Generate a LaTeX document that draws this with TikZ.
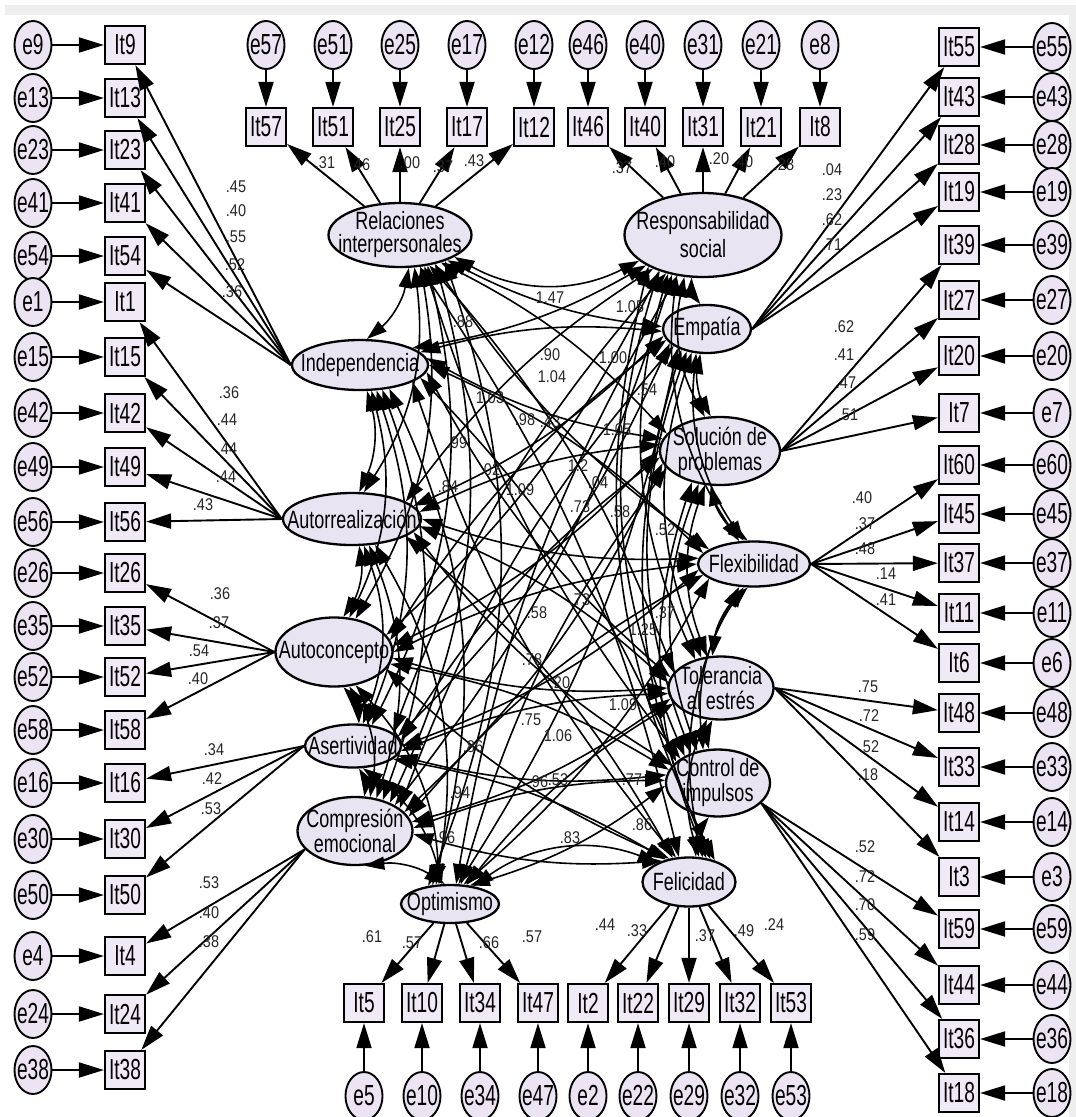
\documentclass[tikz,border=0pt]{standalone}
\usepackage{fontspec}
\setmainfont{Liberation Sans}
\newfontfamily\nar{Liberation Sans}[FakeStretch=0.72]
\newfontfamily\narb{Liberation Sans}[FakeStretch=0.66]
\newfontfamily\narl{Liberation Sans}[FakeStretch=0.85]
\usetikzlibrary{shapes.geometric,arrows.meta}
\definecolor{latfill}{RGB}{233,228,242}
\definecolor{obsfill}{RGB}{240,234,247}
\definecolor{errfill}{RGB}{236,228,243}
\definecolor{band}{RGB}{238,238,238}
\begin{document}
\begin{tikzpicture}[x=1pt,y=-1pt,
  lat/.style={ellipse,draw,line width=2.3pt,fill=latfill,inner sep=0pt},
  lt/.style={font=\nar\fontsize{25}{25}\selectfont,align=center,inner sep=0pt},
  obs/.style={rectangle,draw,line width=2.2pt,fill=obsfill,minimum width=40pt,minimum height=38pt,inner sep=0pt,font=\narb\fontsize{29}{30}\selectfont},
  err/.style={ellipse,draw,line width=1.9pt,fill=errfill,minimum width=37pt,minimum height=48pt,inner xsep=-3pt,inner ysep=0pt,font=\narb\fontsize{29}{30}\selectfont},
  ld/.style={-{Triangle[length=25pt,width=15pt]},line width=1.9pt},
  cov/.style={{Triangle[length=20pt,width=13pt]}-{Triangle[length=20pt,width=13pt]},line width=1.6pt},
  lbl/.style={font=\narl\fontsize{17}{17}\selectfont,inner sep=0pt,text=black!85}]
\useasboundingbox (0,0) rectangle (1076,1117);
\fill[white] (0,0) rectangle (1076,1117);
\fill[band] (5,5) rectangle (1076,15);
\fill[band] (1069,15) rectangle (1076,1117);

% latent variables
\node[lat,minimum width=143pt,minimum height=64pt] (rel) at (400,235) {};
\node[lat,minimum width=157pt,minimum height=84pt] (resp) at (703,235) {};
\node[lat,minimum width=136pt,minimum height=50pt] (ind) at (360,365) {};
\node[lat,minimum width=88pt,minimum height=48pt] (emp) at (707,329) {};
\node[lat,minimum width=138pt,minimum height=52pt] (autor) at (352,519) {};
\node[lat,minimum width=120pt,minimum height=68pt] (sol) at (720,451) {};
\node[lat,minimum width=117pt,minimum height=69pt] (autoc) at (334,652) {};
\node[lat,minimum width=112pt,minimum height=45pt] (flex) at (754,564) {};
\node[lat,minimum width=96pt,minimum height=43pt] (aser) at (353,746) {};
\node[lat,minimum width=105pt,minimum height=63pt] (tol) at (721,688) {};
\node[lat,minimum width=115pt,minimum height=68pt] (comp) at (355,831) {};
\node[lat,minimum width=104pt,minimum height=67pt] (ctrl) at (718,783) {};
\node[lat,minimum width=98pt,minimum height=38pt] (opt) at (450,904) {};
\node[lat,minimum width=93pt,minimum height=49pt] (fel) at (689,882) {};

% left indicators
\foreach \n/\y in {9/45,13/98,23/150,41/203,54/256,1/302,15/357,42/413,49/467,56/522,26/573,35/626,52/677,58/730,16/783,30/839,50/895,4/956,24/1014,38/1070}{
  \node[err] (e\n) at (33,\y) {e\n};
  \node[obs] (it\n) at (125,\y) {It\n};
  \draw[ld] (e\n) -- (it\n);
}
% right indicators
\foreach \n/\y in {55/47,43/97,28/145,19/192,39/245,27/300,20/356,7/413,60/465,45/514,37/563,11/613,6/663,48/713,33/767,14/822,3/877,59/929,44/985,36/1039,18/1093}{
  \node[err] (e\n) at (1052,\y) {e\n};
  \node[obs] (it\n) at (959,\y) {It\n};
  \draw[ld] (e\n) -- (it\n);
}
% top indicators
\foreach \n/\x in {57/266,51/333,25/400,17/467,12/534,46/588,40/645,31/703,21/761,8/820}{
  \node[err] (e\n) at (\x,45) {e\n};
  \node[obs] (it\n) at (\x,127) {It\n};
  \draw[ld] (e\n) -- (it\n);
}
% bottom indicators
\foreach \n/\x in {5/364,10/422,34/480,47/538,2/588,22/638,29/689,32/740,53/791}{
  \node[err] (e\n) at (\x,1096) {e\n};
  \node[obs] (it\n) at (\x,1003) {It\n};
  \draw[ld] (e\n) -- (it\n);
}

% loadings
\foreach \t in {9,13,23,41,54} \draw[ld] (ind.west) -- (it\t);
\foreach \t in {1,15,42,49,56} \draw[ld] (autor.west) -- (it\t);
\foreach \t in {26,35,52,58} \draw[ld] (autoc.west) -- (it\t);
\foreach \t in {16,30,50} \draw[ld] (aser.west) -- (it\t);
\foreach \t in {4,24,38} \draw[ld] (comp.200) -- (it\t);
\foreach \t in {57,51,25,17,12} \draw[ld] (rel) -- (it\t);
\foreach \t in {46,40,31,21,8} \draw[ld] (resp) -- (it\t);
\foreach \t in {55,43,28,19} \draw[ld] (emp.east) -- (it\t);
\foreach \t in {39,27,20,7} \draw[ld] (sol.east) -- (it\t);
\foreach \t in {60,45,37,11,6} \draw[ld] (flex.east) -- (it\t);
\foreach \t in {48,33,14,3} \draw[ld] (tol.east) -- (it\t);
\foreach \t in {59,44,36,18} \draw[ld] (ctrl.-25) -- (it\t);
\foreach \t in {5,10,34,47} \draw[ld] (opt) -- (it\t);
\foreach \t in {2,22,29,32,53} \draw[ld] (fel) -- (it\t);

% covariances: left column among themselves
\foreach \a [count=\i] in {rel,ind,autor,autoc,aser,comp,opt}{
  \foreach \b [count=\j] in {rel,ind,autor,autoc,aser,comp,opt}{
    \ifnum\i<\j
      \pgfmathtruncatemacro\ua{-75+(\j-\i-1)*9}
      \pgfmathtruncatemacro\la{ifthenelse(\j==7,105+(6-\i)*7,75-(\j-\i-1)*9)}
      \draw[cov] (\a.\ua) to[bend left=20] (\b.\la);
    \fi
  }
}
% right column among themselves
\foreach \a [count=\i] in {resp,emp,sol,flex,tol,ctrl,fel}{
  \foreach \b [count=\j] in {resp,emp,sol,flex,tol,ctrl,fel}{
    \ifnum\i<\j
      \pgfmathtruncatemacro\ua{-105-(\j-\i-1)*9}
      \pgfmathtruncatemacro\la{ifthenelse(\j==7,75-(6-\i)*7,105+(\j-\i-1)*9)}
      \draw[cov] (\a.\ua) to[bend right=20] (\b.\la);
    \fi
  }
}
% cross covariances
\foreach \a/\basea [count=\i] in {rel/-40,ind/0,autor/0,autoc/0,aser/0,comp/15,opt/55}{
  \foreach \b/\baseb [count=\j] in {resp/220,emp/195,sol/180,flex/180,tol/180,ctrl/165,fel/130}{
    \pgfmathtruncatemacro\aa{\basea-(\j-4)*6}
    \pgfmathtruncatemacro\ab{\baseb+(\i-4)*6}
    \pgfmathsetmacro\bb{ifthenelse(and(\i==1,\j==1),-28,ifthenelse(and(\i==7,\j==7),28,ifthenelse(mod(\i+\j,2)==0,10,-10)))}
    \draw[cov] (\a.\aa) to[bend left=\bb] (\b.\ab);
  }
}

% latent texts
\node[lt,font=\nar\fontsize{25}{23}\selectfont] (rel-t) at (rel) {Relaciones\\interpersonales};
\node[lt,font=\nar\fontsize{25}{28}\selectfont] (resp-t) at (resp) {Responsabilidad\\social};
\node[lt] (ind-t) at (ind) {Independencia};
\node[lt] (emp-t) at (emp) {Empatía};
\node[lt] (autor-t) at (autor) {Autorrealización};
\node[lt] (sol-t) at (sol) {Solución de\\problemas};
\node[lt] (autoc-t) at (autoc) {Autoconcepto};
\node[lt] (flex-t) at (flex) {Flexibilidad};
\node[lt] (aser-t) at (aser) {Asertividad};
\node[lt] (tol-t) at (tol) {Tolerancia\\al estrés};
\node[lt] (comp-t) at (comp) {Compresión\\emocional};
\node[lt] (ctrl-t) at (ctrl) {Control de\\impulsos};
\node[lt] (opt-t) at (opt) {Optimismo};
\node[lt] (fel-t) at (fel) {Felicidad};

% coefficient labels
\foreach \x/\y/\t [count=\k] in {
 236/187/.45, 236/211/.40, 236/237/.55, 235/265/.52, 232/292/.36,
 229/393/.36, 227/420/.44, 227/449/.44, 226/477/.44, 203/505/.43,
 220/594/.36, 219/623/.37, 199/651/.54, 198/679/.40,
 214/750/.34, 212/779/.42, 211/809/.53,
 209/883/.53, 209/913/.40, 209/942/.38,
 372/937/.61, 412/943/.57, 489/943/.66, 532/937/.57,
 605/925/.44, 637/931/.33, 705/936/.37, 744/931/.49, 774/925/.24,
 865/847/.52, 865/877/.72, 865/905/.70, 865/935/.59,
 868/687/.75, 869/716/.72, 869/747/.52, 868/775/.18,
 862/498/.40, 865/524/.37, 865/549/.48, 886/574/.14, 886/600/.41,
 844/327/.62, 844/355/.41, 846/383/.47, 848/415/.51,
 832/170/.04, 832/195/.23, 832/220/.62, 832/245/.71,
 622/168/.37, 665/162/.40, 719/159/.20, 743/162/.40, 784/165/.28,
 325/163/.31, 360/165/.46, 410/163/.00, 443/167/.37, 474/161/.43,
 550/298/1.47, 463/322/.88, 550/355/.90, 552/377/1.04, 630/307/1.05,
 613/358/1.00, 490/398/1.03, 525/420/.98, 550/422/.43, 617/430/1.05,
 457/443/.99, 490/470/.02, 520/490/1.09, 448/487/.84, 578/466/1.2,
 598/483/.04, 580/507/.73, 620/512/.58, 665/530/.52, 647/390/.54,
 665/613/.37, 643/630/1.25, 473/747/.86, 460/793/.94, 445/838/.96,
 570/838/.83, 558/780/.53, 538/782/.96, 632/780/.77, 531/720/.75,
 558/736/1.06, 560/683/.20, 623/705/1.09, 532/660/.78, 537/613/.58,
 580/600/.73, 642/825/.86}
 \node[lbl] (lab\k) at (\x,\y) {\t};
\end{tikzpicture}
\end{document}
